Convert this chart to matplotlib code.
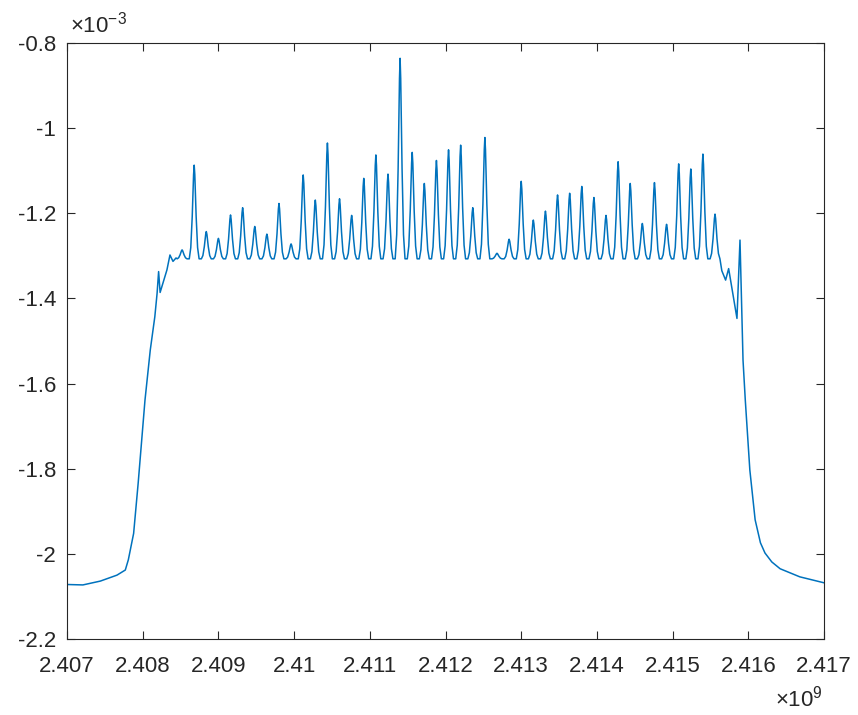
import numpy as np
import matplotlib.pyplot as plt
from matplotlib.ticker import FuncFormatter, MultipleLocator

plt.rcParams['font.family'] = 'Liberation Sans'
plt.rcParams['axes.unicode_minus'] = False
plt.rcParams['mathtext.fontset'] = 'custom'
plt.rcParams['mathtext.rm'] = 'Liberation Sans'
plt.rcParams['mathtext.it'] = 'Liberation Sans:italic'

# rising edge on the left (GHz, x1e-3)
left_edge_ghz = [2.40700, 2.40721, 2.40744, 2.40766, 2.40777, 2.40781, 2.40788,
                 2.40794, 2.40803, 2.40810, 2.40816, 2.40819, 2.40821, 2.40823,
                 2.40832, 2.40836, 2.40840, 2.40844]
left_edge_val = [-2.072, -2.073, -2.064, -2.050, -2.038, -2.014, -1.952,
                 -1.834, -1.639, -1.521, -1.443, -1.388, -1.337, -1.386,
                 -1.333, -1.298, -1.313, -1.305]

# peaks on the flat top
peak_ghz = [2.40852, 2.40868, 2.40884, 2.40900, 2.40916, 2.40932, 2.40948,
            2.40964, 2.40980, 2.40996, 2.41012, 2.41028, 2.41044, 2.41060,
            2.41076, 2.41092, 2.41108, 2.41124, 2.41140, 2.41156, 2.41172,
            2.41188, 2.41204, 2.41220, 2.41236, 2.41252, 2.41268, 2.41284,
            2.41300, 2.41316, 2.41332, 2.41348, 2.41364, 2.41380, 2.41396,
            2.41412, 2.41428, 2.41444, 2.41460, 2.41476, 2.41492, 2.41508,
            2.41524, 2.41540, 2.41556]
peak_val = [-1.286, -1.087, -1.243, -1.259, -1.204, -1.187, -1.231,
            -1.249, -1.177, -1.272, -1.110, -1.169, -1.035, -1.166,
            -1.205, -1.118, -1.063, -1.108, -0.836, -1.057, -1.130,
            -1.076, -1.051, -1.040, -1.187, -1.022, -1.294, -1.261,
            -1.125, -1.216, -1.195, -1.157, -1.153, -1.137, -1.163,
            -1.205, -1.079, -1.130, -1.224, -1.128, -1.226, -1.084,
            -1.096, -1.061, -1.202]
floor_val = -1.307

# falling edge on the right
right_edge_ghz = [2.41565, 2.41570, 2.41574, 2.41585, 2.41589, 2.41593, 2.41596,
                  2.41602, 2.41609, 2.41616, 2.41622, 2.41631, 2.41642, 2.41668,
                  2.41700]
right_edge_val = [-1.335, -1.357, -1.330, -1.447, -1.263, -1.545, -1.639,
                  -1.803, -1.920, -1.974, -1.998, -2.019, -2.035, -2.054,
                  -2.068]

# peak outline (MHz offsets, fraction of height)
shape_off = [-0.065, -0.045, -0.026, -0.008, 0.0, 0.008, 0.026, 0.045, 0.065]
shape_frac = [0.0, 0.12, 0.45, 0.9, 1.0, 0.9, 0.45, 0.12, 0.0]

freq = list(left_edge_ghz)
level = list(left_edge_val)
for f, h in zip(peak_ghz, peak_val):
    for off, frac in zip(shape_off, shape_frac):
        freq.append(f + off * 1e-3)
        level.append(floor_val + frac * (h - floor_val))
freq += right_edge_ghz
level += right_edge_val

freq = np.array(freq) * 1e9
level = np.array(level) * 1e-3

fig = plt.figure(figsize=(8.58, 7.15), dpi=100)
ax = fig.add_axes([0.0781, 0.1063, 0.8823, 0.8336])
ax.plot(freq, level, color='#0072BD', lw=1.1)

ax.set_xlim(2.407e9, 2.417e9)
ax.set_ylim(-2.2e-3, -0.8e-3)
ax.xaxis.set_major_locator(MultipleLocator(1e6))
ax.yaxis.set_major_locator(MultipleLocator(0.2e-3))
ax.xaxis.set_major_formatter(FuncFormatter(lambda v, p: f'{v / 1e9:g}'))
ax.yaxis.set_major_formatter(FuncFormatter(lambda v, p: f'{v * 1e3:g}'))

axis_col = '#262626'
for s in ax.spines.values():
    s.set_color(axis_col)
    s.set_linewidth(0.8)
ax.tick_params(direction='in', length=5.5, width=0.8, top=True, right=True,
               colors=axis_col, labelsize=16)
ax.tick_params(axis='x', pad=12.5)
ax.tick_params(axis='y', pad=8)

ax.text(0.004, 1.0168, r'$\times10^{-3}$', transform=ax.transAxes,
        ha='left', va='baseline', fontsize=16, color=axis_col)
ax.text(0.999, -0.1136, r'$\times10^{9}$', transform=ax.transAxes,
        ha='right', va='baseline', fontsize=16, color=axis_col)

fig.savefig('out.png', dpi=100)
